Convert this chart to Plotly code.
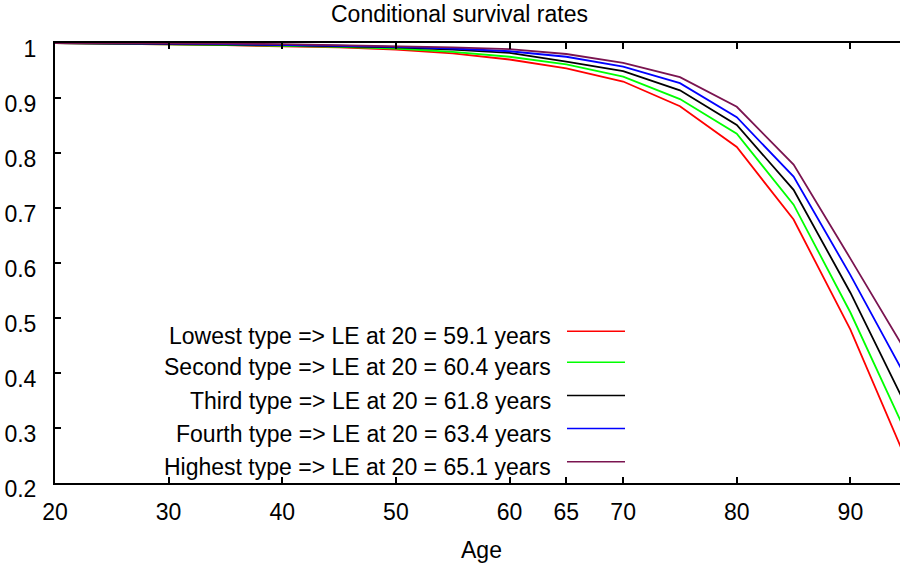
import plotly.graph_objects as go

ages = [20, 25, 30, 35, 40, 45, 50, 55, 60, 65, 70, 75, 80, 85, 90, 95]
lowest  = [1.000, 0.999, 0.998, 0.996, 0.994, 0.992, 0.988, 0.981, 0.970, 0.954, 0.930, 0.885, 0.811, 0.679, 0.479, 0.238]
second  = [1.000, 0.999, 0.998, 0.997, 0.995, 0.993, 0.990, 0.984, 0.975, 0.961, 0.939, 0.898, 0.835, 0.706, 0.510, 0.287]
third   = [1.000, 0.999, 0.999, 0.998, 0.996, 0.994, 0.992, 0.988, 0.982, 0.966, 0.949, 0.914, 0.851, 0.733, 0.546, 0.336]
fourth  = [1.000, 1.000, 0.999, 0.998, 0.997, 0.995, 0.993, 0.990, 0.985, 0.975, 0.957, 0.927, 0.865, 0.757, 0.578, 0.388]
highest = [1.000, 1.000, 0.999, 0.999, 0.998, 0.996, 0.995, 0.992, 0.989, 0.980, 0.964, 0.938, 0.884, 0.779, 0.608, 0.435]

series = [lowest, second, third, fourth, highest]
labels = [
    "Lowest type => LE at 20 = 59.1 years",
    "Second type => LE at 20 = 60.4 years",
    "Third type => LE at 20 = 61.8 years",
    "Fourth type => LE at 20 = 63.4 years",
    "Highest type => LE at 20 = 65.1 years",
]
colors = ["#ff0000", "#00ff00", "#000000", "#0000ff", "#7a1450"]
x_ticks = [20, 30, 40, 50, 60, 65, 70, 80, 90]
y_ticks = [0.2, 0.3, 0.4, 0.5, 0.6, 0.7, 0.8, 0.9, 1.0]
y_ticktext = ["0.2", "0.3", "0.4", "0.5", "0.6", "0.7", "0.8", "0.9", "1"]

W, H = 900, 568
L, R, T, B = 55, 0, 43, 84.5
PW, PH = W - L - R, H - T - B

def px(xp):
    return (xp - L) / PW

def py(yp):
    return (H - B - yp) / PH

FONT = "Liberation Sans, Arial, sans-serif"
FS = 23

fig = go.Figure()
for vals, name, col in zip(series, labels, colors):
    fig.add_trace(go.Scatter(x=ages, y=vals, mode="lines", name=name,
                             line=dict(color=col, width=1.8), showlegend=False))

# manual legend (text right-aligned, sample on the right)
leg_y = [331.7, 362.7, 396.0, 429.0, 462.3]
for name, col, yy in zip(labels, colors, leg_y):
    fig.add_annotation(xref="paper", yref="paper", x=px(553), y=py(yy + 5),
                       text=name, showarrow=False, xanchor="right", yanchor="middle",
                       font=dict(family=FONT, size=FS, color="black"))
    fig.add_shape(type="line", xref="paper", yref="paper",
                  x0=px(567), x1=px(625), y0=py(yy), y1=py(yy),
                  line=dict(color=col, width=1.5))

fig.add_annotation(xref="paper", yref="paper", x=px(459), y=py(0),
                   text="Conditional survival rates", showarrow=False,
                   xanchor="center", yanchor="top", borderpad=0,
                   font=dict(family=FONT, size=FS, color="black"))
fig.add_annotation(xref="paper", yref="paper", x=px(481), y=py(551),
                   text="Age", showarrow=False, xanchor="center", yanchor="middle",
                   font=dict(family=FONT, size=FS, color="black"))

fig.update_layout(
    width=W, height=H,
    margin=dict(l=L, r=R, t=T, b=B, pad=0),
    paper_bgcolor="white", plot_bgcolor="white",
    font=dict(family=FONT, size=FS, color="black"),
    showlegend=False,
)
fig.update_xaxes(range=[20, 20 + PW / 11.363], tickvals=x_ticks,
                 ticktext=[str(v) for v in x_ticks],
                 showline=True, linecolor="black", linewidth=2, mirror="ticks",
                 ticks="inside", ticklen=6, tickwidth=1.5, tickcolor="black",
                 showgrid=False, zeroline=False, ticklabelstandoff=7)
fig.update_yaxes(range=[0.2, 1.0], tickvals=y_ticks, ticktext=y_ticktext,
                 showline=True, linecolor="black", linewidth=2, mirror=False,
                 ticks="inside", ticklen=6, tickwidth=1.5, tickcolor="black",
                 showgrid=False, zeroline=False, ticklabelstandoff=12,
                 ticklabelshift=6)

fig.write_html("out.html")
